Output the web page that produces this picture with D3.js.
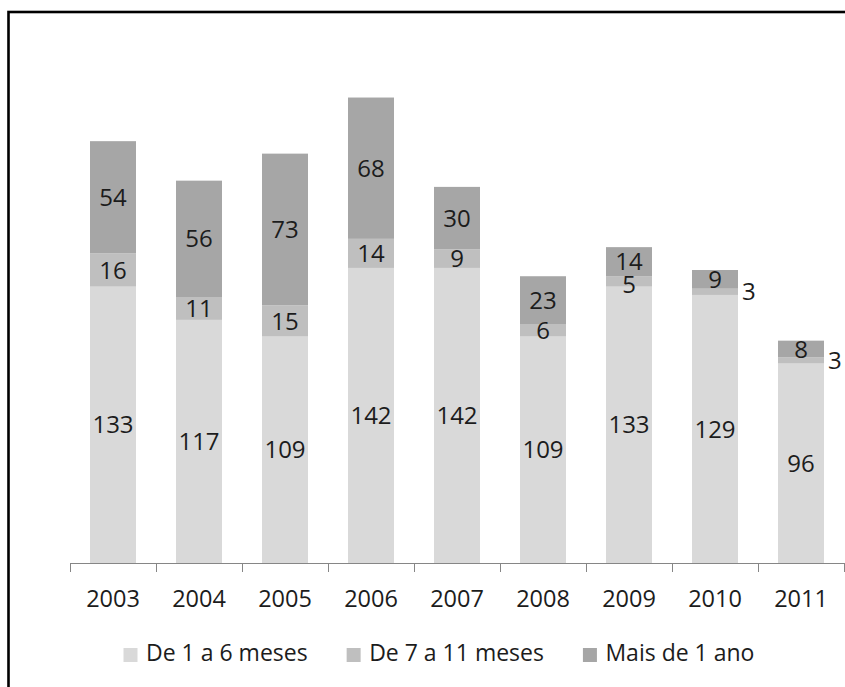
<!DOCTYPE html>
<html>
<head>
<meta charset="utf-8">
<script src="https://cdn.jsdelivr.net/npm/d3@7"></script>
<style>
  html, body { margin: 0; padding: 0; background: #fff; }
  svg { display: block; }
  text { font-family: "Open Sans", "Noto Sans", sans-serif; fill: #1c1c1c; }
</style>
</head>
<body>
<svg id="chart" width="845" height="687"></svg>
<script>
// Years on the category axis
const years = ["2003", "2004", "2005", "2006", "2007", "2008", "2009", "2010", "2011"];

// Stacked series, bottom to top
const seriesNames = ["De 1 a 6 meses", "De 7 a 11 meses", "Mais de 1 ano"];
const de1a6 = [133, 117, 109, 142, 142, 109, 133, 129, 96];
const de7a11 = [16, 11, 15, 14, 9, 6, 5, 3, 3];
const mais1ano = [54, 56, 73, 68, 30, 23, 14, 9, 8];

const yMax = 250;
const colors = ["#d9d9d9", "#bfbfbf", "#a6a6a6"];

const svg = d3.select("#chart");

// Outer frame of the chart object
svg.append("rect")
  .attr("x", 8.5).attr("y", 12)
  .attr("width", 900).attr("height", 800)
  .attr("fill", "none")
  .attr("stroke", "#000")
  .attr("stroke-width", 2.6);

const x = d3.scaleBand()
  .domain(years)
  .range([70, 844])
  .paddingInner(0.465)
  .paddingOuter(0.2325);

const y = d3.scaleLinear()
  .domain([0, yMax])
  .range([563, 563 - yMax * 2.078]);

const table = years.map((yr, i) => ({
  year: yr,
  [seriesNames[0]]: de1a6[i],
  [seriesNames[1]]: de7a11[i],
  [seriesNames[2]]: mais1ano[i]
}));

const stacked = d3.stack().keys(seriesNames)(table);

// Bars
const layers = svg.append("g").selectAll("g")
  .data(stacked)
  .join("g")
  .attr("fill", (d, i) => colors[i]);

layers.selectAll("rect")
  .data(d => d)
  .join("rect")
  .attr("x", d => x(d.data.year))
  .attr("width", x.bandwidth())
  .attr("y", d => y(d[1]))
  .attr("height", d => y(d[0]) - y(d[1]));

// Value labels: centred in each segment, or beside the bar when the segment is too thin
const labelSize = 24;
const minGap = 23;
const labels = svg.append("g").attr("font-size", labelSize);
years.forEach((yr, bi) => {
  let upperCentre = null; // centre of the label placed just above (inside the bar)
  // walk from the top segment downwards so a crowded lower label gets pushed down
  for (let si = stacked.length - 1; si >= 0; si--) {
    const d = stacked[si][bi];
    const v = d[1] - d[0];
    let cy = (y(d[0]) + y(d[1])) / 2;
    const thin = (y(d[0]) - y(d[1])) < 8;
    if (!thin) {
      if (upperCentre !== null && cy - upperCentre < minGap) cy = upperCentre + minGap;
      upperCentre = cy;
    }
    labels.append("text")
      .attr("x", thin ? x(yr) + x.bandwidth() + 4 : x(yr) + x.bandwidth() / 2)
      .attr("y", cy + labelSize * 0.36)
      .attr("text-anchor", thin ? "start" : "middle")
      .text(v);
  }
});

// Category axis with ticks between categories
const axisY = 563;
const axis = svg.append("g").attr("stroke", "#868686").attr("stroke-width", 1);
axis.append("line")
  .attr("x1", x.range()[0]).attr("x2", x.range()[1])
  .attr("y1", axisY + 0.5).attr("y2", axisY + 0.5);
const boundaries = d3.range(years.length + 1).map(i => x.range()[0] + i * x.step());
axis.selectAll("line.tick")
  .data(boundaries)
  .join("line")
  .attr("class", "tick")
  .attr("x1", d => Math.round(d) + 0.5).attr("x2", d => Math.round(d) + 0.5)
  .attr("y1", axisY).attr("y2", axisY + 9);

svg.append("g").attr("font-size", 23.5)
  .selectAll("text")
  .data(years)
  .join("text")
  .attr("x", d => x(d) + x.bandwidth() / 2)
  .attr("y", 607)
  .attr("text-anchor", "middle")
  .text(d => d);

// Legend
const legend = svg.append("g").attr("font-size", 23);
let lx = 123.5;
seriesNames.forEach((name, i) => {
  legend.append("rect")
    .attr("x", lx).attr("y", 648)
    .attr("width", 14).attr("height", 14)
    .attr("fill", colors[i]);
  const t = legend.append("text")
    .attr("x", lx + 22.5)
    .attr("y", 661)
    .text(name);
  lx += 22.5 + t.node().getComputedTextLength() + 39;
});
</script>
</body>
</html>
